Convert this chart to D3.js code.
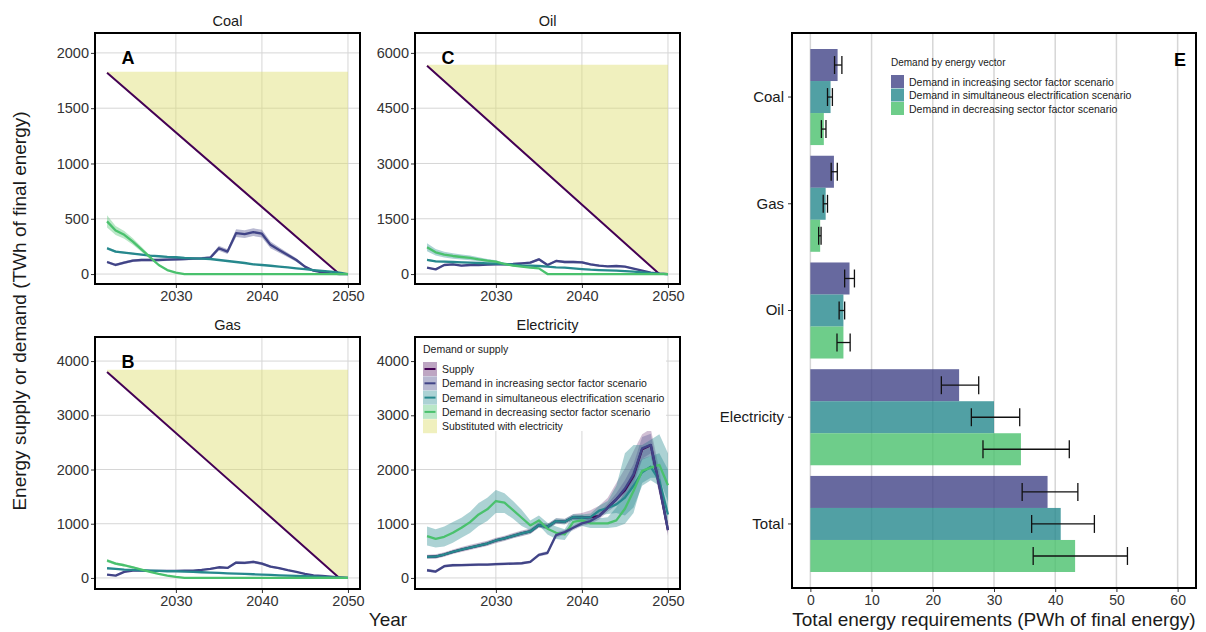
<!DOCTYPE html>
<html>
<head>
<meta charset="utf-8">
<script src="https://cdn.jsdelivr.net/npm/d3@7"></script>
<style>
  body { margin: 0; background: #fff; }
  text { font-family: "Liberation Sans", Arial, sans-serif; }
</style>
</head>
<body>
<svg id="chart" width="1206" height="632"></svg>
<script>
// ---- data ----
const YEARS = [2022, 2023, 2024, 2025, 2026, 2027, 2028, 2029, 2030, 2031, 2032, 2033, 2034, 2035, 2036,
  2037, 2038, 2039, 2040, 2041, 2042, 2043, 2044, 2045, 2046, 2047, 2048, 2049, 2050];

// supply falls linearly to zero, so only its knots are stored
const SUPPLY_YEARS = [2022, 2049, 2050];
const coalSupply = [1820, 0, 0];
const oilSupply = [5650, 0, 0];
const gasSupply = [3800, 0, 0];
// top of the "substituted with electricity" area
const coalSubstitutedTop = 1830;
const oilSubstitutedTop = 5680;
const gasSubstitutedTop = 3840;

const coalIncrease = [109, 82, 103, 121, 127, 127, 127, 130, 133, 136, 139, 142, 148, 233, 203, 370, 361, 379, 365, 264, 218, 173, 127, 67, 30, 15, 6, 0, 0];
const coalIncreaseBand = [12, 12, 12, 12, 12, 12, 12, 12, 12, 12, 12, 12, 15, 22, 22, 35, 35, 35, 35, 30, 25, 20, 15, 10, 6, 4, 2, 0, 0];
const coalSimultaneous = [233, 203, 194, 185, 176, 167, 161, 155, 152, 145, 142, 139, 136, 127, 118, 109, 100, 88, 82, 75, 67, 60, 52, 44, 36, 28, 21, 12, 0];
const coalSimultaneousBand = [14, 10, 8, 8, 7, 7, 6, 6, 6, 6, 5, 5, 5, 5, 5, 5, 4, 4, 4, 4, 3, 3, 3, 3, 2, 2, 2, 1, 0];
const coalDecrease = [476, 394, 355, 294, 224, 152, 82, 36, 12, 0, 0, 0, 0, 0, 0, 0, 0, 0, 0, 0, 0, 0, 0, 0, 0, 0, 0, 0, 0];
const coalDecreaseBand = [55, 40, 35, 30, 22, 15, 8, 4, 1, 0, 0, 0, 0, 0, 0, 0, 0, 0, 0, 0, 0, 0, 0, 0, 0, 0, 0, 0, 0];

const oilIncrease = [173, 127, 245, 264, 227, 245, 245, 255, 264, 264, 273, 290, 309, 400, 245, 355, 327, 327, 318, 264, 227, 209, 218, 200, 145, 90, 36, 9, 0];
const oilIncreaseBand = [20, 20, 25, 25, 25, 25, 25, 25, 25, 25, 25, 25, 30, 35, 30, 35, 35, 35, 35, 30, 28, 25, 25, 25, 20, 12, 6, 2, 0];
const oilSimultaneous = [382, 345, 336, 327, 318, 309, 300, 291, 282, 273, 255, 236, 227, 218, 200, 182, 173, 155, 136, 118, 109, 100, 91, 82, 64, 45, 27, 9, 0];
const oilSimultaneousBand = [30, 25, 22, 20, 20, 18, 18, 16, 16, 15, 15, 14, 14, 13, 12, 12, 11, 10, 10, 9, 8, 8, 7, 6, 5, 4, 3, 2, 0];
const oilDecrease = [727, 590, 527, 490, 463, 436, 400, 364, 336, 273, 227, 200, 173, 155, 0, 0, 0, 0, 0, 0, 0, 0, 0, 0, 0, 0, 0, 0, 0];
const oilDecreaseBand = [110, 90, 80, 75, 70, 65, 55, 45, 35, 25, 20, 18, 15, 12, 0, 0, 0, 0, 0, 0, 0, 0, 0, 0, 0, 0, 0, 0, 0];

const gasIncrease = [62, 43, 111, 136, 136, 130, 130, 130, 130, 136, 136, 148, 167, 197, 185, 284, 278, 296, 265, 210, 179, 142, 111, 74, 49, 37, 25, 12, 0];
const gasIncreaseBand = [10, 10, 12, 12, 12, 12, 12, 12, 12, 12, 12, 14, 15, 18, 18, 25, 25, 25, 25, 20, 18, 14, 12, 8, 6, 4, 3, 2, 0];
const gasSimultaneous = [179, 167, 154, 148, 142, 136, 130, 123, 123, 117, 111, 105, 99, 93, 86, 80, 74, 68, 62, 56, 49, 43, 37, 31, 25, 19, 12, 6, 0];
const gasSimultaneousBand = [10, 8, 7, 7, 6, 6, 6, 6, 6, 5, 5, 5, 5, 5, 4, 4, 4, 4, 3, 3, 3, 3, 2, 2, 2, 2, 1, 1, 0];
const gasDecrease = [321, 265, 234, 197, 154, 111, 74, 43, 19, 0, 0, 0, 0, 0, 0, 0, 0, 0, 0, 0, 0, 0, 0, 0, 0, 0, 0, 0, 0];
const gasDecreaseBand = [30, 25, 22, 18, 15, 10, 7, 4, 2, 0, 0, 0, 0, 0, 0, 0, 0, 0, 0, 0, 0, 0, 0, 0, 0, 0, 0, 0, 0];

const elecSupply = [389, 395, 432, 481, 524, 561, 598, 635, 691, 728, 777, 820, 857, 975, 944, 1049, 1036, 1123, 1110, 1123, 1141, 1296, 1450, 1617, 1882, 2375, 2450, 1697, 882];
const elecSupplyLo = [350, 355, 390, 440, 480, 515, 550, 590, 640, 680, 730, 770, 810, 925, 900, 1000, 990, 1070, 1050, 1080, 1150, 1280, 1420, 1580, 1800, 2200, 2300, 1550, 780];
const elecSupplyHi = [430, 435, 475, 525, 570, 610, 650, 685, 740, 780, 830, 875, 910, 1030, 1000, 1100, 1090, 1180, 1200, 1250, 1330, 1480, 1750, 2020, 2340, 2650, 2750, 2000, 1000];
const elecIncrease = [142, 117, 216, 234, 237, 241, 244, 247, 253, 259, 265, 271, 296, 426, 463, 790, 845, 925, 1006, 1049, 1141, 1296, 1450, 1650, 1910, 2390, 2455, 1700, 885];
const elecIncreaseLo = [115, 90, 190, 210, 212, 215, 218, 222, 228, 234, 240, 246, 270, 395, 430, 740, 800, 880, 960, 1000, 1080, 1220, 1340, 1500, 1720, 2180, 2250, 1550, 830];
const elecIncreaseHi = [170, 145, 242, 260, 262, 266, 270, 272, 278, 284, 290, 296, 322, 456, 496, 840, 890, 970, 1050, 1100, 1200, 1370, 1560, 1800, 2100, 2600, 2660, 1850, 940];
const elecSimultaneous = [389, 395, 432, 481, 524, 561, 598, 635, 691, 728, 777, 820, 857, 975, 944, 1049, 1036, 1123, 1110, 1123, 1240, 1290, 1357, 1480, 1700, 1950, 2050, 1800, 1170];
const elecSimultaneousLo = [360, 365, 400, 450, 492, 528, 564, 600, 655, 690, 738, 780, 815, 930, 900, 1000, 990, 1070, 1050, 1060, 1150, 1180, 1200, 1150, 1300, 1700, 1800, 1700, 900];
const elecSimultaneousHi = [420, 425, 465, 512, 556, 594, 632, 670, 727, 766, 816, 860, 900, 1020, 990, 1100, 1085, 1175, 1170, 1190, 1330, 1420, 1700, 2300, 2450, 2450, 2550, 2650, 2300];
const elecDecrease = [771, 722, 759, 833, 925, 1030, 1172, 1265, 1419, 1388, 1252, 1110, 969, 1061, 907, 833, 802, 1036, 1061, 1006, 1006, 1006, 1061, 1277, 1604, 1974, 2036, 2085, 1709];
const elecDecreaseLo = [600, 560, 580, 650, 740, 830, 960, 1050, 1200, 1200, 1090, 960, 880, 970, 800, 720, 700, 920, 960, 920, 920, 920, 940, 1000, 1200, 1750, 1850, 1850, 1400];
const elecDecreaseHi = [950, 900, 950, 1030, 1110, 1220, 1380, 1480, 1620, 1560, 1420, 1260, 1060, 1150, 1020, 950, 900, 1150, 1160, 1100, 1100, 1120, 1300, 1600, 2000, 2200, 2250, 2300, 2000];

// panel E
const CATEGORIES = ["Coal", "Gas", "Oil", "Electricity", "Total"];
const SCENARIOS = [
  "Demand in increasing sector factor scenario",
  "Demand in simultaneous electrification scenario",
  "Demand in decreasing sector factor scenario",
];
const barIncrease = [4.45, 3.85, 6.4, 24.3, 38.75];
const barIncreaseLo = [3.95, 3.4, 5.6, 21.4, 34.6];
const barIncreaseHi = [5.15, 4.4, 7.2, 27.5, 43.7];
const barSimultaneous = [3.3, 2.5, 5.4, 30.0, 40.9];
const barSimultaneousLo = [2.8, 2.1, 4.7, 26.3, 36.15];
const barSimultaneousHi = [3.6, 2.8, 5.6, 34.2, 46.4];
const barDecrease = [2.2, 1.6, 5.4, 34.4, 43.25];
const barDecreaseLo = [1.8, 1.35, 4.35, 28.2, 36.4];
const barDecreaseHi = [2.55, 1.75, 6.5, 42.3, 51.8];

// ---- styling ----
const COLORS = {
  supply: "#440154",
  increase: "#414487",
  simultaneous: "#26888d",
  decrease: "#4ac16d",
  substituted: "#dede6e",
};
const SUBSTITUTED_OPACITY = 0.45;
const GRID = "#d6d6d6";
const TICK_TEXT = "#333";

const svg = d3.select("#chart");

function bandFrom(values, spread) {
  return values.map((v, i) => ({ year: YEARS[i], lo: v - spread[i], hi: v + spread[i] }));
}
function bandLoHi(lo, hi) {
  return lo.map((v, i) => ({ year: YEARS[i], lo: v, hi: hi[i] }));
}

const PANELS = [
  {
    title: "Coal", letter: "A", x0: 95, x1: 360, y0: 33, y1: 284,
    yDomain: [-90, 2180], yTicks: [0, 500, 1000, 1500, 2000],
    supply: coalSupply, substitutedTop: coalSubstitutedTop,
    series: [
      { key: "increase", values: coalIncrease, band: bandFrom(coalIncrease, coalIncreaseBand), bandColor: COLORS.increase },
      { key: "simultaneous", values: coalSimultaneous, band: bandFrom(coalSimultaneous, coalSimultaneousBand), bandColor: COLORS.simultaneous },
      { key: "decrease", values: coalDecrease, band: bandFrom(coalDecrease, coalDecreaseBand), bandColor: COLORS.decrease },
    ],
  },
  {
    title: "Oil", letter: "C", x0: 415, x1: 680, y0: 33, y1: 284,
    yDomain: [-270, 6540], yTicks: [0, 1500, 3000, 4500, 6000],
    supply: oilSupply, substitutedTop: oilSubstitutedTop,
    series: [
      { key: "increase", values: oilIncrease, band: bandFrom(oilIncrease, oilIncreaseBand), bandColor: COLORS.increase },
      { key: "simultaneous", values: oilSimultaneous, band: bandFrom(oilSimultaneous, oilSimultaneousBand), bandColor: COLORS.simultaneous },
      { key: "decrease", values: oilDecrease, band: bandFrom(oilDecrease, oilDecreaseBand), bandColor: COLORS.simultaneous },
    ],
  },
  {
    title: "Gas", letter: "B", x0: 95, x1: 360, y0: 337, y1: 589,
    yDomain: [-204, 4444], yTicks: [0, 1000, 2000, 3000, 4000],
    supply: gasSupply, substitutedTop: gasSubstitutedTop,
    series: [
      { key: "increase", values: gasIncrease, band: bandFrom(gasIncrease, gasIncreaseBand), bandColor: COLORS.increase },
      { key: "simultaneous", values: gasSimultaneous, band: bandFrom(gasSimultaneous, gasSimultaneousBand), bandColor: COLORS.simultaneous },
      { key: "decrease", values: gasDecrease, band: bandFrom(gasDecrease, gasDecreaseBand), bandColor: COLORS.decrease },
    ],
  },
  {
    title: "Electricity", letter: "", x0: 415, x1: 680, y0: 337, y1: 589,
    yDomain: [-204, 4444], yTicks: [0, 1000, 2000, 3000, 4000],
    legend: true,
    series: [
      { key: "supply", values: elecSupply, band: bandLoHi(elecSupplyLo, elecSupplyHi), bandColor: COLORS.supply, bandOpacity: 0.25 },
      { key: "simultaneous", values: elecSimultaneous, band: bandLoHi(elecSimultaneousLo, elecSimultaneousHi), bandColor: COLORS.simultaneous },
      { key: "decrease", values: elecDecrease, band: bandLoHi(elecDecreaseLo, elecDecreaseHi), bandColor: COLORS.simultaneous },
      { key: "increase", values: elecIncrease, band: bandLoHi(elecIncreaseLo, elecIncreaseHi), bandColor: COLORS.increase, bandOpacity: 0.3 },
    ],
  },
];

const X_DOMAIN = [2020.6, 2051.4];
const X_TICKS = [2030, 2040, 2050];

function drawPanel(p) {
  const g = svg.append("g");
  const x = d3.scaleLinear().domain(X_DOMAIN).range([p.x0, p.x1]);
  const y = d3.scaleLinear().domain(p.yDomain).range([p.y1, p.y0]);

  // grid
  g.selectAll(".hgrid").data(p.yTicks).join("line")
    .attr("x1", p.x0).attr("x2", p.x1)
    .attr("y1", d => y(d)).attr("y2", d => y(d))
    .attr("stroke", GRID).attr("stroke-width", 1);
  g.selectAll(".vgrid").data(X_TICKS).join("line")
    .attr("y1", p.y0).attr("y2", p.y1)
    .attr("x1", d => x(d)).attr("x2", d => x(d))
    .attr("stroke", GRID).attr("stroke-width", 1);

  // substituted with electricity
  if (p.supply) {
    const knots = SUPPLY_YEARS.map((yr, i) => ({ year: yr, v: p.supply[i] }));
    g.append("path")
      .datum(knots)
      .attr("fill", COLORS.substituted).attr("fill-opacity", SUBSTITUTED_OPACITY)
      .attr("d", d3.area().x(d => x(d.year)).y0(d => y(d.v)).y1(y(p.substitutedTop)));
  }

  // ribbons
  const area = d3.area().x(d => x(d.year)).y0(d => y(d.lo)).y1(d => y(d.hi));
  p.series.forEach(s => {
    g.append("path").datum(s.band)
      .attr("fill", s.bandColor).attr("fill-opacity", s.bandOpacity || 0.38)
      .attr("d", area);
  });

  // supply line
  const line = d3.line().x(d => x(d[0])).y(d => y(d[1]));
  if (p.supply) {
    g.append("path").datum(SUPPLY_YEARS.map((yr, i) => [yr, p.supply[i]]))
      .attr("fill", "none").attr("stroke", COLORS.supply).attr("stroke-width", 2)
      .attr("d", line);
  }
  p.series.forEach(s => {
    g.append("path").datum(s.values.map((v, i) => [YEARS[i], v]))
      .attr("fill", "none").attr("stroke", COLORS[s.key]).attr("stroke-width", 2.3)
      .attr("stroke-linejoin", "round")
      .attr("d", line);
  });

  // axes
  const yAxis = g.append("g").attr("transform", `translate(${p.x0 - 1},0)`)
    .call(d3.axisLeft(y).tickValues(p.yTicks).tickSize(3).tickPadding(2).tickFormat(d3.format("d")));
  const xAxis = g.append("g").attr("transform", `translate(0,${p.y1 + 1})`)
    .call(d3.axisBottom(x).tickValues(X_TICKS).tickSize(3).tickPadding(3).tickFormat(d3.format("d")));
  [yAxis, xAxis].forEach(a => {
    a.select(".domain").remove();
    a.selectAll("line").attr("stroke", "#333");
    a.selectAll("text").attr("fill", TICK_TEXT).style("font-size", "14.5px")
      .style("font-family", "'Liberation Sans', Arial, sans-serif");
  });

  // frame
  g.append("rect")
    .attr("x", p.x0).attr("y", p.y0)
    .attr("width", p.x1 - p.x0).attr("height", p.y1 - p.y0)
    .attr("fill", "none").attr("stroke", "#000").attr("stroke-width", 2);

  // title and letter
  g.append("text").attr("x", (p.x0 + p.x1) / 2).attr("y", p.y0 - 7)
    .attr("text-anchor", "middle").style("font-size", "14.5px").attr("fill", "#1a1a1a")
    .text(p.title);
  if (p.letter) {
    g.append("text").attr("x", p.x0 + 33).attr("y", p.y0 + 31)
      .attr("text-anchor", "middle").style("font-size", "18px").style("font-weight", "bold")
      .text(p.letter);
  }

  if (p.legend) drawLineLegend(g, p);
}

function drawLineLegend(g, p) {
  const items = [
    { label: "Supply", fill: COLORS.supply, fillOpacity: 0.35, line: COLORS.supply },
    { label: "Demand in increasing sector factor scenario", fill: COLORS.increase, fillOpacity: 0.38, line: COLORS.increase },
    { label: "Demand in simultaneous electrification scenario", fill: COLORS.simultaneous, fillOpacity: 0.38, line: COLORS.simultaneous },
    { label: "Demand in decreasing sector factor scenario", fill: COLORS.decrease, fillOpacity: 0.38, line: COLORS.decrease },
    { label: "Substituted with electricity", fill: COLORS.substituted, fillOpacity: SUBSTITUTED_OPACITY, line: null },
  ];
  const lx = p.x0 + 8, ly = p.y0;
  g.append("rect").attr("x", p.x0 + 1).attr("y", p.y0 + 1)
    .attr("width", 250).attr("height", 93).attr("fill", "#fff");
  g.append("text").attr("x", lx).attr("y", ly + 16)
    .style("font-size", "10.5px").attr("fill", "#1a1a1a").text("Demand or supply");
  const rows = g.selectAll(".lrow").data(items).join("g")
    .attr("transform", (d, i) => `translate(${lx},${ly + 25 + i * 14.3})`);
  rows.append("rect").attr("width", 14).attr("height", 14)
    .attr("fill", d => d.fill).attr("fill-opacity", d => d.fillOpacity);
  rows.filter(d => d.line).append("line")
    .attr("x1", 1.5).attr("x2", 12.5).attr("y1", 7).attr("y2", 7)
    .attr("stroke", d => d.line).attr("stroke-width", 2);
  rows.append("text").attr("x", 19).attr("y", 11)
    .style("font-size", "10.5px").attr("fill", "#1a1a1a").text(d => d.label);
}

PANELS.forEach(drawPanel);

// shared axis titles of the line panels
svg.append("text")
  .attr("transform", "translate(26,311) rotate(-90)")
  .attr("text-anchor", "middle").style("font-size", "19px").attr("fill", "#1a1a1a")
  .text("Energy supply or demand (TWh of final energy)");
svg.append("text").attr("x", 388).attr("y", 626)
  .attr("text-anchor", "middle").style("font-size", "19px").attr("fill", "#1a1a1a")
  .text("Year");

// ---- panel E: bar chart ----
function drawBars() {
  const E = { x0: 792, x1: 1196, y0: 33, y1: 588 };
  const g = svg.append("g");
  const x = d3.scaleLinear().domain([-3, 63]).range([E.x0, E.x1]);
  const y = d3.scaleBand().domain(CATEGORIES).range([E.y0, E.y1])
    .paddingInner(0.1).paddingOuter(0.15);
  const sub = d3.scaleBand().domain(SCENARIOS).range([0, y.bandwidth()]);
  const barColors = [COLORS.increase, COLORS.simultaneous, COLORS.decrease];
  const seriesValues = [barIncrease, barSimultaneous, barDecrease];
  const seriesLo = [barIncreaseLo, barSimultaneousLo, barDecreaseLo];
  const seriesHi = [barIncreaseHi, barSimultaneousHi, barDecreaseHi];

  const xTicks = [0, 10, 20, 30, 40, 50, 60];
  g.selectAll(".egrid").data(xTicks).join("line")
    .attr("x1", d => x(d)).attr("x2", d => x(d))
    .attr("y1", E.y0).attr("y2", E.y1)
    .attr("stroke", GRID).attr("stroke-width", 1.5);

  const rows = [];
  CATEGORIES.forEach((c, i) => {
    SCENARIOS.forEach((s, j) => {
      rows.push({ cat: c, scen: s, j, value: seriesValues[j][i], lo: seriesLo[j][i], hi: seriesHi[j][i] });
    });
  });

  g.selectAll(".bar").data(rows).join("rect")
    .attr("x", x(0)).attr("width", d => x(d.value) - x(0))
    .attr("y", d => y(d.cat) + sub(d.scen)).attr("height", sub.bandwidth())
    .attr("fill", d => barColors[d.j]).attr("fill-opacity", 0.8);

  const cap = sub.bandwidth() * 0.28;
  const eb = g.selectAll(".err").data(rows).join("g")
    .attr("stroke", "#111").attr("stroke-width", 1.3);
  eb.append("line")
    .attr("x1", d => x(d.lo)).attr("x2", d => x(d.hi))
    .attr("y1", d => y(d.cat) + sub(d.scen) + sub.bandwidth() / 2)
    .attr("y2", d => y(d.cat) + sub(d.scen) + sub.bandwidth() / 2);
  eb.append("line")
    .attr("x1", d => x(d.lo)).attr("x2", d => x(d.lo))
    .attr("y1", d => y(d.cat) + sub(d.scen) + sub.bandwidth() / 2 - cap)
    .attr("y2", d => y(d.cat) + sub(d.scen) + sub.bandwidth() / 2 + cap);
  eb.append("line")
    .attr("x1", d => x(d.hi)).attr("x2", d => x(d.hi))
    .attr("y1", d => y(d.cat) + sub(d.scen) + sub.bandwidth() / 2 - cap)
    .attr("y2", d => y(d.cat) + sub(d.scen) + sub.bandwidth() / 2 + cap);

  const xAxis = g.append("g").attr("transform", `translate(0,${E.y1 + 1})`)
    .call(d3.axisBottom(x).tickValues(xTicks).tickSize(3).tickPadding(3));
  const yAxis = g.append("g").attr("transform", `translate(${E.x0 - 1},0)`)
    .call(d3.axisLeft(y).tickSize(3).tickPadding(4));
  [xAxis, yAxis].forEach(a => {
    a.select(".domain").remove();
    a.selectAll("line").attr("stroke", "#333");
    a.selectAll("text").attr("fill", TICK_TEXT)
      .style("font-family", "'Liberation Sans', Arial, sans-serif");
  });
  xAxis.selectAll("text").style("font-size", "14px");
  yAxis.selectAll("text").style("font-size", "15px").attr("fill", "#1a1a1a");

  g.append("rect")
    .attr("x", E.x0).attr("y", E.y0)
    .attr("width", E.x1 - E.x0).attr("height", E.y1 - E.y0)
    .attr("fill", "none").attr("stroke", "#000").attr("stroke-width", 2);

  g.append("text").attr("x", 1180).attr("y", 66)
    .attr("text-anchor", "middle").style("font-size", "18px").style("font-weight", "bold")
    .text("E");

  g.append("text").attr("x", (E.x0 + E.x1) / 2).attr("y", 626)
    .attr("text-anchor", "middle").style("font-size", "19px").attr("fill", "#1a1a1a")
    .text("Total energy requirements (PWh of final energy)");

  // legend
  const lx = 891, ly = 53;
  g.append("text").attr("x", lx).attr("y", ly + 13)
    .style("font-size", "10px").attr("fill", "#1a1a1a").text("Demand by energy vector");
  const lrows = g.selectAll(".lrow").data(SCENARIOS).join("g")
    .attr("transform", (d, i) => `translate(${lx},${ly + 22 + i * 13.5})`);
  lrows.append("rect").attr("width", 13).attr("height", 13)
    .attr("fill", (d, i) => barColors[i]).attr("fill-opacity", 0.8);
  lrows.append("text").attr("x", 18).attr("y", 10.5)
    .style("font-size", "10.5px").attr("fill", "#1a1a1a").text(d => d);
}

drawBars();
</script>
</body>
</html>
